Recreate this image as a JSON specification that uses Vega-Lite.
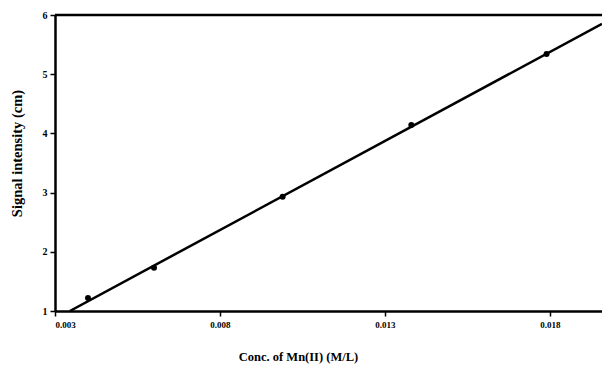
{
  "$schema": "https://vega.github.io/schema/vega-lite/v6.json",
  "width": 547,
  "height": 296,
  "autosize": "none",
  "padding": {"left": 55, "top": 15, "right": 0, "bottom": 54},
  "background": "white",
  "config": {
    "view": {"stroke": null},
    "font": "Liberation Serif",
    "axis": {
      "grid": false,
      "domainColor": "black",
      "domainWidth": 2.5,
      "tickColor": "black",
      "tickWidth": 1.5,
      "tickSize": 5,
      "labelFont": "Liberation Serif",
      "labelFontWeight": "bold",
      "labelFontSize": 10,
      "labelColor": "black",
      "titleFont": "Liberation Serif",
      "titleFontWeight": "bold",
      "titleFontSize": 12.5,
      "titleColor": "black"
    }
  },
  "datasets": {
    "points": [
      {"conc": 0.0040, "signal": 1.22},
      {"conc": 0.0060, "signal": 1.73},
      {"conc": 0.0099, "signal": 2.93},
      {"conc": 0.0138, "signal": 4.14},
      {"conc": 0.0179, "signal": 5.34}
    ],
    "fit": [
      {"conc": 0.00345, "signal": 1.0},
      {"conc": 0.01958, "signal": 5.85}
    ],
    "frame": [
      {"x0": 0.003, "x1": 0.01958, "y": 6}
    ]
  },
  "layer": [
    {
      "data": {"name": "frame"},
      "mark": {"type": "rule", "color": "black", "strokeWidth": 2.5},
      "encoding": {
        "x": {"field": "x0", "type": "quantitative"},
        "x2": {"field": "x1"},
        "y": {"field": "y", "type": "quantitative"}
      }
    },
    {
      "data": {"name": "fit"},
      "mark": {"type": "line", "color": "black", "strokeWidth": 2.5, "clip": true},
      "encoding": {
        "x": {"field": "conc", "type": "quantitative"},
        "y": {"field": "signal", "type": "quantitative"}
      }
    },
    {
      "data": {"name": "points"},
      "mark": {"type": "point", "filled": true, "color": "black", "size": 36, "opacity": 1},
      "encoding": {
        "x": {
          "field": "conc",
          "type": "quantitative",
          "scale": {"domain": [0.003, 0.01958], "nice": false, "zero": false},
          "axis": {
            "values": [0.003, 0.008, 0.013, 0.018],
            "format": ".3f",
            "labelPadding": 4,
            "labelFontSize": 9,
            "title": "Conc. of Mn(II) (M/L)",
            "titleX": 243,
            "titleY": 49,
            "titleAnchor": "middle",
            "titleBaseline": "alphabetic"
          }
        },
        "y": {
          "field": "signal",
          "type": "quantitative",
          "scale": {"domain": [1, 6], "nice": false, "zero": false},
          "axis": {
            "values": [1, 1.5, 2, 2.5, 3, 3.5, 4, 4.5, 5, 5.5, 6],
            "format": ".0f",
            "labelExpr": "datum.value % 1 === 0 ? datum.label : ''",
            "labelPadding": 3,
            "title": "Signal intensity (cm)",
            "titleFontSize": 14.5,
            "titleX": -38,
            "titleY": 138,
            "titleAngle": -90,
            "titleAnchor": "middle",
            "titleBaseline": "middle"
          }
        }
      }
    }
  ]
}
